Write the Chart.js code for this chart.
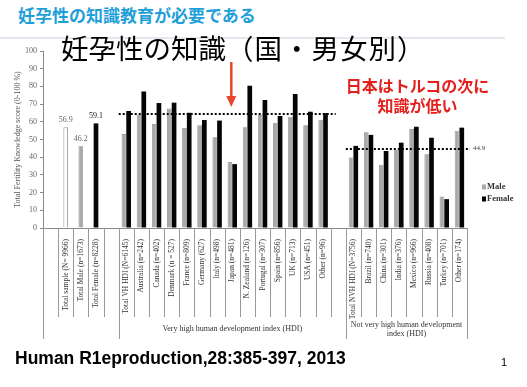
<!DOCTYPE html>
<html>
<head>
<meta charset="utf-8">
<script src="https://cdn.jsdelivr.net/npm/chart.js@4/dist/chart.umd.min.js"></script>
<style>
  body { margin: 0; background: #fff; }
  #wrap { position: relative; width: 527px; height: 387px; overflow: hidden; background: #fff; }
  #wrap div { position: absolute; white-space: nowrap; }
  .head { left: 18px; top: 6px; font: bold 17px/18px "Noto Sans CJK JP"; color: #1f9fd9; }
  .rule { left: 0; top: 37px; width: 505px; height: 2px; background: #e3e8ee; }
  .title { left: 61px; top: 32px; font: 27.5px/30px "Noto Sans CJK JP"; color: #000; }
  .title span { letter-spacing: 1px; }
  .note { left: 330px; top: 75px; width: 175px; text-align: center; font: bold 16px/20px "Noto Sans CJK JP"; color: #e3201c; }
  .cite { left: 15px; top: 348px; font: bold 17.5px/20px "Liberation Sans"; color: #000; }
  .page { left: 501px; top: 355px; font: 11px/14px "Liberation Sans"; color: #000; }
  canvas { position: absolute; left: 0; top: 0; }
</style>
</head>
<body>
<div id="wrap">
  <div class="head">妊孕性の知識教育が必要である</div>
  <div class="rule"></div>
  <canvas id="chart" width="527" height="387"></canvas>
  <div class="title">妊孕性の知識<span>（国・男女別）</span></div>
  <div class="note">日本はトルコの次に<br>知識が低い</div>
  <div class="cite">Human R1eproduction,28:385-397, 2013</div>
  <div class="page">1</div>
</div>
<script>
const categories = [
  "", "Total sample (N= 9966)", "Total Male (n=1673)", "Total Female (n=8228)", "",
  "Total VH HDI (N=6145)", "Australia (n=242)", "Canada (n=402)", "Denmark (n = 527)",
  "France (n=809)", "Germany (627)", "Italy (n=498)", "Japan (n=481)", "N. Zealand (n=126)",
  "Portugal (n=307)", "Spain (n=856)", "UK (n=713)", "USA (n=451)", "Other (n=96)", "",
  "Total NVH HDI (N=3756)", "Brazil (n=740)", "China (n=301)", "India (n=376)",
  "Mexico (n=966)", "Russia (n=408)", "Turkey (n=701)", "Other (n=174)"
];
const totalValues = [null, 56.9, null, null, null,
  null, null, null, null, null, null, null, null, null, null, null, null, null, null, null,
  null, null, null, null, null, null, null, null];
const maleValues = [null, null, 46.2, null, null,
  53.1, 64.0, 58.8, 67.5, 56.5, 58.0, 51.3, 37.3, 56.9, 63.8, 59.5, 62.9, 58.1, 61.2, null,
  39.8, 54.1, 35.7, 44.1, 55.9, 41.7, 17.8, 55.0];
const femaleValues = [null, null, null, 59.1, null,
  66.1, 77.1, 70.6, 70.8, 65.1, 61.0, 60.7, 36.1, 80.3, 72.3, 63.3, 75.7, 65.7, 64.9, null,
  46.4, 52.6, 43.5, 48.2, 57.2, 51.0, 16.3, 56.7];
const yTicks = [0, 10, 20, 30, 40, 50, 60, 70, 80, 90, 100];
const groupNames = ["Very high human development index (HDI)", "Not very high human development|index (HDI)"];
const groupStarts = [5, 20];
const groupMeans = [64.6, 44.9];
const groupEnds = [18, 27];
const arrowTarget = "Japan (n=481)";

const serif = '"Liberation Serif", "DejaVu Serif", serif';

const overlay = {
  id: "overlay",
  afterDatasetsDraw(chart) {
    const { ctx, chartArea: a, scales: { x, y } } = chart;
    const slot = x.getPixelForValue(1) - x.getPixelForValue(0);
    const edge = k => x.getPixelForValue(0) - slot / 2 + k * slot;
    ctx.save();

    // table dividers under the axis
    ctx.strokeStyle = "#9a9a9a";
    ctx.lineWidth = 1;
    for (let k = 0; k <= categories.length; k++) {
      const px = Math.round(edge(k)) + 0.5;
      const long = k === 0 || k === categories.length || groupStarts.includes(k);
      ctx.beginPath();
      ctx.moveTo(px, a.bottom);
      ctx.lineTo(px, long ? 339 : 317);
      ctx.stroke();
    }

    // group captions
    ctx.fillStyle = "#333";
    ctx.font = "8px " + serif;
    ctx.textAlign = "center";
    ctx.textBaseline = "middle";
    groupNames.forEach((name, i) => {
      const cx = (edge(groupStarts[i]) + edge(i + 1 < groupStarts.length ? groupStarts[i + 1] : categories.length)) / 2;
      const lines = name.split("|");
      const y0 = lines.length > 1 ? 325 : 329;
      lines.forEach((t, j) => ctx.fillText(t, cx, y0 + j * 9));
    });

    // group mean dotted lines
    ctx.strokeStyle = "#000";
    ctx.lineWidth = 2;
    ctx.setLineDash([2, 2]);
    groupMeans.forEach((m, i) => {
      const py = Math.round(y.getPixelForValue(m));
      const x0 = edge(groupStarts[i]);
      const x1 = i === 1 ? edge(groupEnds[i] + 1) + 3 : edge(groupEnds[i] + 1) + 5;
      ctx.beginPath();
      ctx.moveTo(x0, py);
      ctx.lineTo(x1, py);
      ctx.stroke();
    });
    ctx.setLineDash([]);
    ctx.fillStyle = "#444";
    ctx.font = "7px " + serif;
    ctx.textAlign = "left";
    ctx.fillText(groupMeans[1].toFixed(1), edge(categories.length) + 6, y.getPixelForValue(groupMeans[1]));

    // value labels on the three total bars
    ctx.font = "8px " + serif;
    ctx.textAlign = "center";
    ctx.textBaseline = "bottom";
    const sets = [totalValues, maleValues, femaleValues];
    [1, 2, 3].forEach((idx, i) => {
      const bar = chart.getDatasetMeta(i).data[idx];
      ctx.fillStyle = i === 2 ? "#222" : "#666";
      ctx.fillText(sets[i][idx].toFixed(1), bar.x, bar.y - 3);
    });

    // legend
    ctx.font = "bold 8.5px " + serif;
    ctx.textAlign = "left";
    ctx.textBaseline = "middle";
    chart.data.datasets.slice(1).forEach((ds, i) => {
      const ly = 187 + i * 12;
      ctx.fillStyle = ds.backgroundColor;
      ctx.fillRect(482, ly - 2.5, 4, 5);
      ctx.fillStyle = "#333";
      ctx.fillText(ds.label, 487, ly);
    });

    // red arrow pointing at Japan
    const ax = x.getPixelForValue(categories.indexOf(arrowTarget)) - 1;
    ctx.strokeStyle = "#e8472c";
    ctx.fillStyle = "#e8472c";
    ctx.lineWidth = 2.5;
    ctx.beginPath();
    ctx.moveTo(ax, 62);
    ctx.lineTo(ax, 98);
    ctx.stroke();
    ctx.beginPath();
    ctx.moveTo(ax - 5, 96);
    ctx.lineTo(ax + 5, 96);
    ctx.lineTo(ax, 107);
    ctx.closePath();
    ctx.fill();
    ctx.restore();
  }
};

new Chart(document.getElementById("chart"), {
  type: "bar",
  data: {
    labels: categories,
    datasets: [
      { label: "Total", data: totalValues, backgroundColor: "#ffffff", borderColor: "#9a9a9a", borderWidth: 1 },
      { label: "Male", data: maleValues, backgroundColor: "#a9a9a9", borderColor: "#888888", borderWidth: 0.8 },
      { label: "Female", data: femaleValues, backgroundColor: "#050505", borderColor: "#000000", borderWidth: 0 }
    ]
  },
  options: {
    responsive: false,
    animation: false,
    devicePixelRatio: 1,
    layout: { padding: { top: 51, right: 60, left: 0, bottom: 0 } },
    datasets: { bar: { skipNull: true, categoryPercentage: 0.62, barPercentage: 1.0, maxBarThickness: 4.7 } },
    plugins: { legend: { display: false }, tooltip: { enabled: false } },
    scales: {
      x: {
        grid: { display: false },
        border: { display: true, color: "#888" },
        afterFit(scale) { scale.height = 159; },
        ticks: {
          autoSkip: false, minRotation: 90, maxRotation: 90, padding: 3,
          color: "#333", font: { family: serif, size: 7.5 }
        }
      },
      y: {
        min: 0, max: 100,
        afterFit(scale) { scale.width = 43; },
        afterBuildTicks(scale) { scale.ticks = yTicks.map(v => ({ value: v })); },
        grid: { drawOnChartArea: false, tickLength: 3, color: "#888" },
        border: { display: true, color: "#888" },
        ticks: { padding: 3, color: "#666", font: { family: serif, size: 8 } },
        title: {
          display: true, text: "Total Fertility Knowledge score (0-100 %)",
          color: "#555", font: { family: serif, size: 8 }, padding: { top: 13, bottom: 0 }
        }
      }
    }
  },
  plugins: [overlay]
});
</script>
</body>
</html>
